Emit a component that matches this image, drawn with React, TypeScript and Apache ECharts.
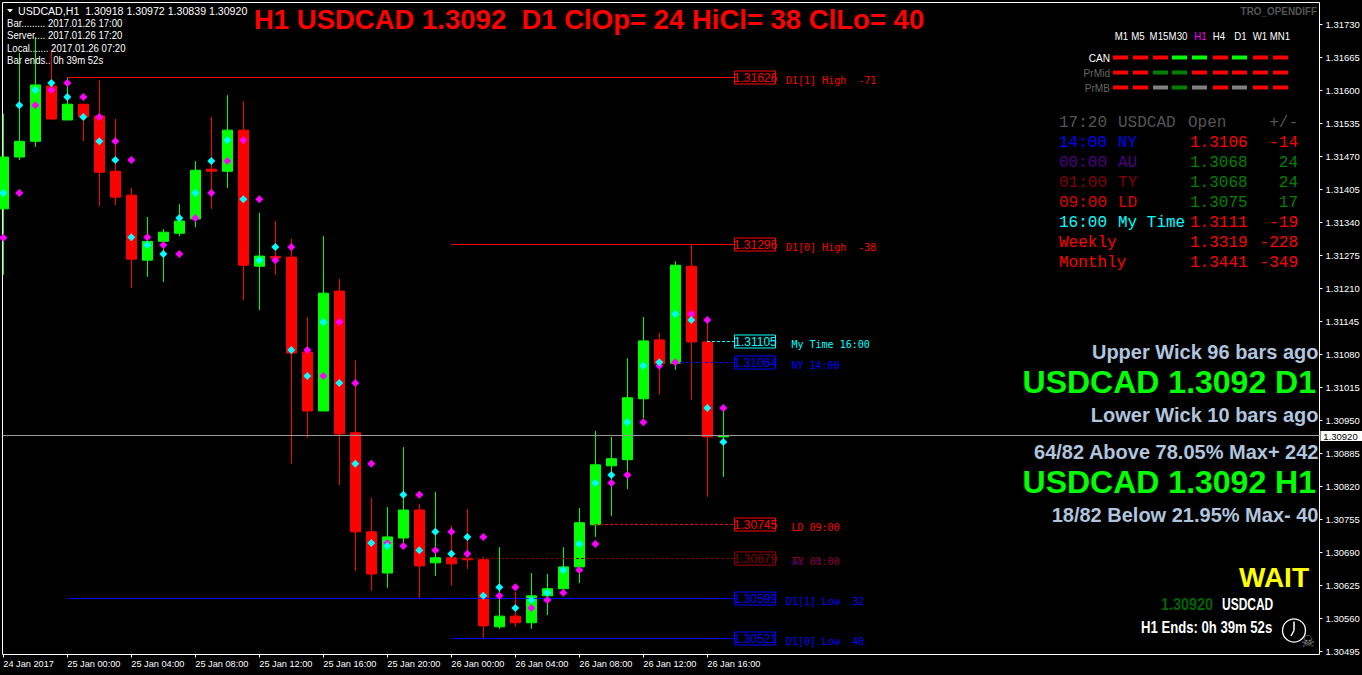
import React, { useEffect, useRef } from "react";
import * as echarts from "echarts";

const opens = [
  1.31367,1.31469,1.31500,1.31609,1.31542,1.31573,1.31550,1.31441,1.31394,1.31266,
  1.31303,1.31319,1.31347,1.31445,1.31441,1.31522,1.31254,1.31273,1.31272,1.31085,
  1.30969,1.31205,1.30926,1.30731,1.30650,1.30719,1.30774,1.30670,1.30680,1.30679,
  1.30676,1.30544,1.30565,1.30552,1.30605,1.30619,1.30662,1.30745,1.30861,1.30873,
  1.30993,1.31109,1.31063,1.31254,1.31105,1.30918];
const closes = [
  1.31469,1.31500,1.31611,1.31544,1.31573,1.31548,1.31439,1.31390,1.31268,1.31303,
  1.31321,1.31343,1.31443,1.31441,1.31522,1.31256,1.31274,1.31270,1.31083,1.30969,
  1.31201,1.30924,1.30731,1.30648,1.30721,1.30774,1.30664,1.30680,1.30668,1.30676,
  1.30546,1.30565,1.30552,1.30605,1.30619,1.30662,1.30749,1.30863,1.30875,1.30995,
  1.31107,1.31062,1.31256,1.31105,1.30918,1.30920];
const lows = [
  1.31237,1.31463,1.31489,1.31542,1.31542,1.31500,1.31372,1.31374,1.31211,1.31233,
  1.31223,1.31313,1.31331,1.31367,1.31408,1.31187,1.31168,1.31237,1.30865,1.30916,
  1.30969,1.30823,1.30654,1.30615,1.30621,1.30699,1.30599,1.30644,1.30625,1.30658,
  1.30520,1.30540,1.30544,1.30540,1.30567,1.30607,1.30630,1.30721,1.30762,1.30815,
  1.30955,1.31002,1.31050,1.30991,1.30800,1.30839];
const highs = [
  1.31554,1.31674,1.31705,1.31680,1.31626,1.31573,1.31620,1.31544,1.31408,1.31351,
  1.31327,1.31376,1.31461,1.31548,1.31591,1.31579,1.31359,1.31343,1.31308,1.31154,
  1.31313,1.31229,1.31069,1.30798,1.30780,1.30898,1.30786,1.30810,1.30743,1.30776,
  1.30682,1.30701,1.30613,1.30650,1.30648,1.30701,1.30778,1.30930,1.30918,1.31073,
  1.31154,1.31123,1.31264,1.31296,1.31148,1.30972];
const cyanDots = [
  1.31398,1.31571,1.31601,1.31615,1.31587,1.31548,1.31500,1.31463,1.31311,1.31296,
  1.31278,1.31349,1.31398,1.31461,1.31502,1.31386,1.31266,1.31292,1.31089,1.31038,
  1.31144,1.31024,1.30865,1.30709,1.30703,1.30804,1.30695,1.30731,1.30688,1.30721,
  1.30605,1.30622,1.30581,1.30597,1.30611,1.30656,1.30707,1.30827,1.30843,1.30947,
  1.31058,1.31065,1.31160,1.31148,1.30975,1.30908];
const magentaDots = [
  1.31310,1.31398,1.31571,1.31601,1.31615,1.31587,1.31548,1.31500,1.31463,1.31311,
  1.31296,1.31278,1.31349,1.31398,1.31461,1.31502,1.31386,1.31266,1.31292,1.31089,
  1.31038,1.31144,1.31024,1.30865,1.30709,1.30703,1.30804,1.30695,1.30731,1.30688,
  1.30721,1.30605,1.30622,1.30581,1.30597,1.30611,1.30656,1.30707,1.30827,1.30843,
  1.30947,1.31058,1.31065,1.31160,1.31148,1.30975];

const xTickIndex = [0,4,8,12,16,20,24,28,32,36,40,44];
const xTickLabels = ["24 Jan 2017","25 Jan 00:00","25 Jan 04:00","25 Jan 08:00","25 Jan 12:00","25 Jan 16:00",
  "25 Jan 20:00","26 Jan 00:00","26 Jan 04:00","26 Jan 08:00","26 Jan 12:00","26 Jan 16:00"];
const yTicks = [1.31730,1.31665,1.31600,1.31535,1.31470,1.31405,1.31340,1.31275,1.31210,1.31145,
  1.31080,1.31015,1.30950,1.30885,1.30820,1.30755,1.30690,1.30625,1.30560,1.30495];
const lastPrice = 1.30920;

const levelPrices = [1.31626,1.31296,1.31105,1.31064,1.30745,1.30679,1.30679,1.30599,1.30521];
const levelStart = [4,28,44,42,37,28,28,4,28];
const levelCaptions = ["D1[1] High  -71","D1[0] High  -38","My Time 16:00","NY 14:00","LD 09:00","AU 00:00","TY 01:00","D1[1] Low  32","D1[0] Low  40"];
const levelColors = ["#ff0000","#ff0000","#00ffff","#0000ff","#ff0000","#4b0082","#800000","#0000ff","#0000ff"];
const levelDashed = [false,false,true,true,true,true,true,false,false];
const levelCaptionLeft = [51.5,51.5,57,57,57,57,57,51.5,51.5];
const levelBoxColors = ["#ff0000","#ff0000","#00ffff","#0000ff","#ff0000","#800000","#800000","#0000ff","#0000ff"];
const levelEndIndex = 45.67;

const tfLabels = ["M1","M5","M15","M30","H1","H4","D1","W1","MN1"];
const tfCenters = [1121.5,1138,1159,1178,1200.5,1219,1240.5,1260,1280];
const dashLeft = [1113,1133,1153,1172,1192,1213,1232,1253,1273];
const R = "#ff0000", G = "#00ff00", D = "#008000", S = "#808080";
const dashRows = [
  { name: "CAN", y: 58, color: "#ffffff", cells: [R,R,R,G,G,R,G,R,R] },
  { name: "PrMid", y: 73, color: "#666666", cells: [R,R,D,D,R,R,R,R,R] },
  { name: "PrMB", y: 88, color: "#666666", cells: [R,R,S,D,S,R,S,R,R] },
];
const tableRows = [
  { a: "17:20", b: "USDCAD", c: "Open", d: "+/-", col: "#555555", val: "#555555" },
  { a: "14:00", b: "NY", c: "1.3106", d: "-14", col: "#0000ff", val: "#ff0000" },
  { a: "00:00", b: "AU", c: "1.3068", d: "24", col: "#4b0082", val: "#008000" },
  { a: "01:00", b: "TY", c: "1.3068", d: "24", col: "#800000", val: "#008000" },
  { a: "09:00", b: "LD", c: "1.3075", d: "17", col: "#e00000", val: "#008000" },
  { a: "16:00", b: "My Time", c: "1.3111", d: "-19", col: "#00ffff", val: "#ff0000" },
  { a: "Weekly", b: "", c: "1.3319", d: "-228", col: "#ff0000", val: "#ff0000" },
  { a: "Monthly", b: "", c: "1.3441", d: "-349", col: "#ff0000", val: "#ff0000" },
];
const infoLines = ["Bar......... 2017.01.26 17:00","Server.... 2017.01.26 17:20","Local....... 2017.01.26 07:20","Bar ends.. 0h 39m 52s"];

const SANS = '"Liberation Sans", sans-serif';
const MONO = '"Liberation Mono", monospace';
const PIX = '"DejaVu Sans Mono", monospace';

function T(text: string, x: number, y: number, fill: string, size: number, family = SANS, bold = false, align = "left", scaleX = 1): any {
  return {
    type: "text", x, y, scaleX, silent: true, z: 50,
    style: { text, fill, fontSize: size, fontFamily: family, fontWeight: bold ? "bold" : "normal", textAlign: align, textVerticalAlign: "middle" },
  };
}

function overlay(): any[] {
  const g: any[] = [];
  g.push({ type: "polygon", silent: true, z: 50, shape: { points: [[7, 9], [13, 9], [10, 12.5]] }, style: { fill: "#fff" } });
  g.push(T("USDCAD,H1  1.30918 1.30972 1.30839 1.30920", 18, 10.5, "#ffffff", 11, SANS, false, "left", 0.965));
  infoLines.forEach((s, i) => g.push(T(s, 7, 23.5 + i * 12.2, "#ffffff", 11, SANS, false, "left", 0.87)));
  g.push(T("TRO_OPENDIFF", 1317, 11, "#555555", 11, SANS, true, "right", 0.9));
  tfLabels.forEach((s, i) => g.push(T(s, tfCenters[i], 36, s === "H1" ? "#ff00ff" : "#ffffff", 10.5, SANS, false, "center", 0.92)));
  dashRows.forEach((r) => {
    g.push(T(r.name, 1110, r.y, r.color, 11, SANS, false, "right", 0.92));
    r.cells.forEach((c, i) => g.push({ type: "rect", silent: true, z: 50, shape: { x: dashLeft[i], y: r.y - 2.5, width: 15, height: 4 }, style: { fill: c } }));
  });
  tableRows.forEach((r, i) => {
    const y = 122.5 + i * 20;
    g.push(T(r.a, 1059, y, r.col, 16, MONO));
    if (r.b) g.push(T(r.b, 1118, y, r.col, 16, MONO));
    g.push(T(r.c, i === 0 ? 1188 : 1190, y, r.val, 16, MONO));
    g.push(T(r.d, 1298, y, r.val, 16, MONO, false, "right"));
  });
  const steel = "#b0c4de";
  g.push(T("Upper Wick 96 bars ago", 1318.5, 352, steel, 20, SANS, true, "right"));
  g.push(T("USDCAD 1.3092 D1", 1316, 382, "#00ff00", 32, SANS, true, "right"));
  g.push(T("Lower Wick 10 bars ago", 1318.5, 415, steel, 20, SANS, true, "right"));
  g.push(T("64/82 Above 78.05% Max+ 242", 1318.5, 452, steel, 20, SANS, true, "right"));
  g.push(T("USDCAD 1.3092 H1", 1316, 482, "#00ff00", 32, SANS, true, "right"));
  g.push(T("18/82 Below 21.95% Max- 40", 1318.5, 515, steel, 20, SANS, true, "right"));
  g.push(T("WAIT", 1309, 577, "#ffff00", 28, SANS, true, "right"));
  g.push(T("1.30920", 1161, 604, "#006400", 16, SANS, true, "left", 0.9));
  g.push(T("USDCAD", 1222, 604, "#ffffff", 16, SANS, true, "left", 0.75));
  g.push(T("H1 Ends: 0h 39m 52s", 1141, 628, "#ffffff", 16, SANS, true, "left", 0.82));
  g.push({ type: "circle", silent: true, z: 50, shape: { cx: 1294, cy: 630.5, r: 11.5 }, style: { fill: "none", stroke: "#ffffff", lineWidth: 1.3 } });
  g.push({ type: "line", silent: true, z: 50, shape: { x1: 1294, y1: 630.5, x2: 1294, y2: 621.5 }, style: { stroke: "#ffffff", lineWidth: 1.5 } });
  g.push({ type: "line", silent: true, z: 50, shape: { x1: 1294, y1: 630.5, x2: 1291, y2: 636 }, style: { stroke: "#ffffff", lineWidth: 1.5 } });
  g.push(T("☠", 1308, 641, "#888888", 16, '"DejaVu Sans"', false, "center"));
  return g;
}

export default function App() {
  const ref = useRef<HTMLDivElement>(null);
  useEffect(() => {
    document.body.style.margin = "0";
    document.body.style.background = "#000";
    const chart = echarts.init(ref.current!, null, { renderer: "svg" });
    const candles = opens.map((o, i) => [i, o, closes[i], lows[i], highs[i]]);
    const xMin = -0.05, xMax = 82.2625;
    chart.setOption({
      animation: false,
      backgroundColor: "#000000",
      title: {
        text: "H1 USDCAD 1.3092  D1 ClOp= 24 HiCl= 38 ClLo= 40",
        left: 254, top: 5, padding: 0,
        textStyle: { color: "#ff0000", fontSize: 27.5, fontWeight: "bold", fontFamily: SANS },
      },
      grid: { left: 2.5, top: 2.5, width: 1317, height: 652, outerBoundsMode: "none", containLabel: false, show: true, borderColor: "#ffffff", borderWidth: 1, backgroundColor: "transparent" },
      xAxis: {
        type: "value", min: xMin, max: xMax, splitLine: { show: false },
        axisLine: { show: false, onZero: false },
        axisTick: { show: true, length: 3, lineStyle: { color: "#fff" }, customValues: xTickIndex },
        axisLabel: {
          show: true, customValues: xTickIndex, color: "#fff", fontSize: 9.2, fontFamily: SANS, align: "left", margin: 5,
          formatter: (v: number) => xTickLabels[xTickIndex.indexOf(Math.round(v))] ?? "",
        },
      },
      yAxis: {
        type: "value", position: "right", min: 1.304895, max: 1.317733, splitLine: { show: false }, scale: true,
        axisLine: { show: false, onZero: false },
        axisTick: { show: true, length: 3, lineStyle: { color: "#fff" }, customValues: yTicks },
        axisLabel: {
          show: true, customValues: yTicks, color: "#fff", fontSize: 9.5, fontFamily: SANS, align: "left", margin: 6,
          formatter: (v: number) => v.toFixed(5),
        },
      },
      series: [
        {
          type: "candlestick", name: "USDCAD,H1", data: candles, barWidth: 10, z: 2,
          encode: { x: 0, y: [1, 2, 3, 4] },
          itemStyle: { color: "#00ff00", color0: "#ff0000", borderColor: "#00ff00", borderColor0: "#ff0000", borderWidth: 1 },
        },
        {
          type: "custom", name: "Bid", z: 3, silent: true, clip: false,
          data: [[xMin, lastPrice, xMax]],
          encode: { x: 0, y: 1 },
          renderItem: (_: any, api: any) => {
            const [x0, y] = api.coord([api.value(0), api.value(1)]);
            const [x1] = api.coord([api.value(2), api.value(1)]);
            const py = Math.floor(y) + 0.5;
            return {
              type: "group",
              children: [
                { type: "line", shape: { x1: x0, y1: py, x2: x1, y2: py }, style: { stroke: "#9a9a9a", lineWidth: 1 } },
                { type: "rect", shape: { x: x1 + 1, y: py - 4.5, width: 42, height: 10 }, style: { fill: "#ffffff" } },
                { type: "text", style: { x: x1 + 21, y: py + 0.5, text: lastPrice.toFixed(5), fill: "#000000", fontSize: 9.5, fontFamily: SANS, textAlign: "center", textVerticalAlign: "middle" } },
              ],
            };
          },
        },
        {
          type: "custom", name: "levels", z: 5, silent: true, clip: false,
          data: levelPrices.map((p, i) => [levelEndIndex, p, i, levelStart[i]]),
          encode: { x: 0, y: 1 },
          renderItem: (_: any, api: any) => {
            const i = api.value(2);
            const [x, y] = api.coord([api.value(0), api.value(1)]);
            const [xs] = api.coord([api.value(3), api.value(1)]);
            const px = Math.round(x) + 0.5, py = Math.floor(y) + 0.5;
            return {
              type: "group",
              children: [
                { type: "line", shape: { x1: Math.floor(xs), y1: py, x2: px, y2: py }, style: { stroke: levelColors[i], lineWidth: 1, lineDash: levelDashed[i] ? [3, 2] : null } },
                { type: "rect", shape: { x: px, y: py - 6.5, width: 41, height: 13 }, style: { fill: "#000", stroke: levelBoxColors[i], lineWidth: 1 } },
                { type: "text", style: { x: px + 21, y: py + 0.5, text: levelPrices[i].toFixed(5), fill: levelBoxColors[i], fontSize: 12, fontFamily: SANS, textAlign: "center", textVerticalAlign: "middle" } },
                { type: "text", style: { x: px + levelCaptionLeft[i], y: py + 3, text: levelCaptions[i], fill: levelColors[i], fontSize: 10, fontFamily: PIX, textAlign: "left", textVerticalAlign: "middle" } },
              ],
            };
          },
        },
        {
          type: "scatter", name: "close marks", data: magentaDots.map((v, i) => [i, v]), symbol: "diamond", symbolSize: 8, z: 6, silent: true, clip: false,
          itemStyle: { color: "#ff00ff", opacity: 1 },
        },
        {
          type: "scatter", name: "open marks", data: cyanDots.map((v, i) => [i, v]), symbol: "diamond", symbolSize: 8, z: 7, silent: true, clip: false,
          itemStyle: { color: "#00ffff", opacity: 1 },
        },
      ],
      graphic: overlay(),
    });
    return () => chart.dispose();
  }, []);
  return <div ref={ref} style={{ width: 1362, height: 675 }} />;
}
